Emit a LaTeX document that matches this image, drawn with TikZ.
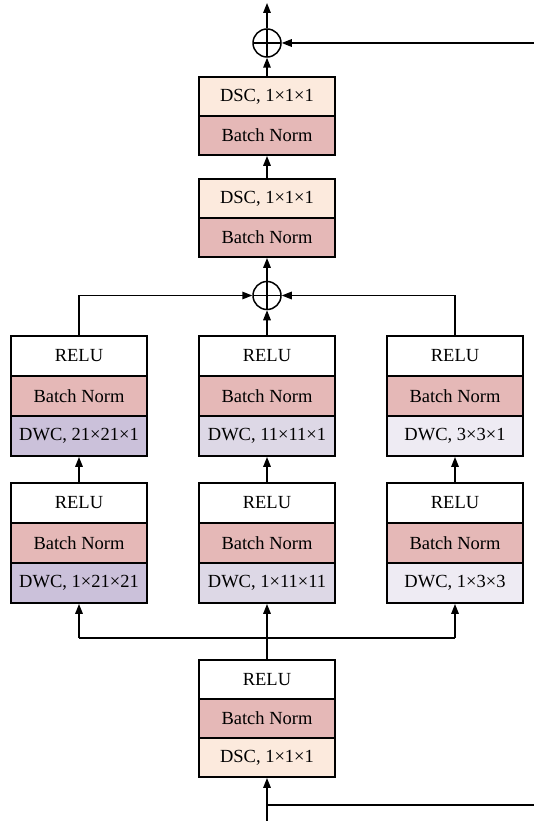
\documentclass[tikz,border=0pt]{standalone}
\usepackage{fontspec}
\setmainfont{Liberation Serif}
\usetikzlibrary{arrows.meta,positioning}
\definecolor{dscfill}{HTML}{FCEADD}
\definecolor{bnfill}{HTML}{E5B8B7}
\definecolor{dwcA}{HTML}{CBC1DA}
\definecolor{dwcB}{HTML}{DDD8E6}
\definecolor{dwcC}{HTML}{EEEBF3}
\tikzset{
  cell/.style={draw, line width=1.8pt, minimum width=136pt, minimum height=39pt,
    inner sep=0pt, font=\fontsize{18.5}{21}\selectfont},
  tall/.style={cell, minimum height=40pt},
  dsc/.style={fill=dscfill},
  bn/.style={fill=bnfill},
  sumnode/.style={circle, draw, line width=1.5pt, minimum size=28pt, inner sep=0pt,
    path picture={\draw[line width=1.5pt]
      (path picture bounding box.north) -- (path picture bounding box.south)
      (path picture bounding box.west) -- (path picture bounding box.east);}},
  conn/.style={line width=1.5pt},
  arr/.style={conn, -{Triangle[length=10pt,width=7.5pt]}}
}
\begin{document}
\begin{tikzpicture}[x=1pt,y=-1pt]
\useasboundingbox (0,0) rectangle (534,821);

% output sum and head
\node[sumnode] (sumout) at (267,43) {};
\node[cell,dsc] (t1dsc) at (267,96.5) {DSC, 1×1×1};
\node[cell,bn]  (t1bn)  at (267,135.5) {Batch Norm};
\node[cell,dsc] (t2dsc) at (267,198.5) {DSC, 1×1×1};
\node[cell,bn]  (t2bn)  at (267,237.5) {Batch Norm};

% branch sum
\node[sumnode] (summid) at (267,295.5) {};

% upper row of branches
\foreach \n/\x/\k/\c in {a/79/21×21×1/dwcA, b/267/11×11×1/dwcB, c/455/3×3×1/dwcC}{
  \node[tall]          (u\n relu) at (\x,356) {RELU};
  \node[tall,bn]       (u\n bn)   at (\x,396) {Batch Norm};
  \node[tall,fill=\c]  (u\n dwc)  at (\x,436) {DWC, \k};
}
% lower row of branches
\foreach \n/\x/\k/\c in {a/79/1×21×21/dwcA, b/267/1×11×11/dwcB, c/455/1×3×3/dwcC}{
  \node[tall]          (l\n relu) at (\x,503) {RELU};
  \node[tall,bn]       (l\n bn)   at (\x,543) {Batch Norm};
  \node[tall,fill=\c]  (l\n dwc)  at (\x,583) {DWC, \k};
}

% input block
\node[cell]     (brelu) at (267,679.5) {RELU};
\node[cell,bn]  (bbn)   at (267,718.5) {Batch Norm};
\node[cell,dsc] (bdsc)  at (267,757.5) {DSC, 1×1×1};

% free ends
\coordinate (inp)    at (267,821);
\coordinate (skipin) at (267,805);
\coordinate (skipr)  at (534,805);
\coordinate (skipl)  at (534,43);
\coordinate (outp)   at (267,3);
\coordinate (split)  at (267,638);

% input and residual path
\draw[arr] (inp) -- (bdsc.south);
\draw[conn] (skipin) -- (skipr);
\draw[arr] (skipl) -- (sumout.east);

% split into three branches
\draw[arr] (brelu.north) -- (lbdwc.south);
\draw[conn] (split -| ladwc.south) -- (split -| lcdwc.south);
\draw[arr] (split -| ladwc.south) -- (ladwc.south);
\draw[arr] (split -| lcdwc.south) -- (lcdwc.south);

% within branches
\draw[arr] (larelu.north) -- (uadwc.south);
\draw[arr] (lbrelu.north) -- (ubdwc.south);
\draw[arr] (lcrelu.north) -- (ucdwc.south);

% merge branches
\draw[arr] (ubrelu.north) -- (summid.south);
\draw[arr] (uarelu.north) |- (summid.west);
\draw[arr] (ucrelu.north) |- (summid.east);

% head
\draw[arr] (summid.north) -- (t2bn.south);
\draw[arr] (t2dsc.north) -- (t1bn.south);
\draw[arr] (t1dsc.north) -- (sumout.south);
\draw[arr] (sumout.north) -- (outp);
\end{tikzpicture}
\end{document}
